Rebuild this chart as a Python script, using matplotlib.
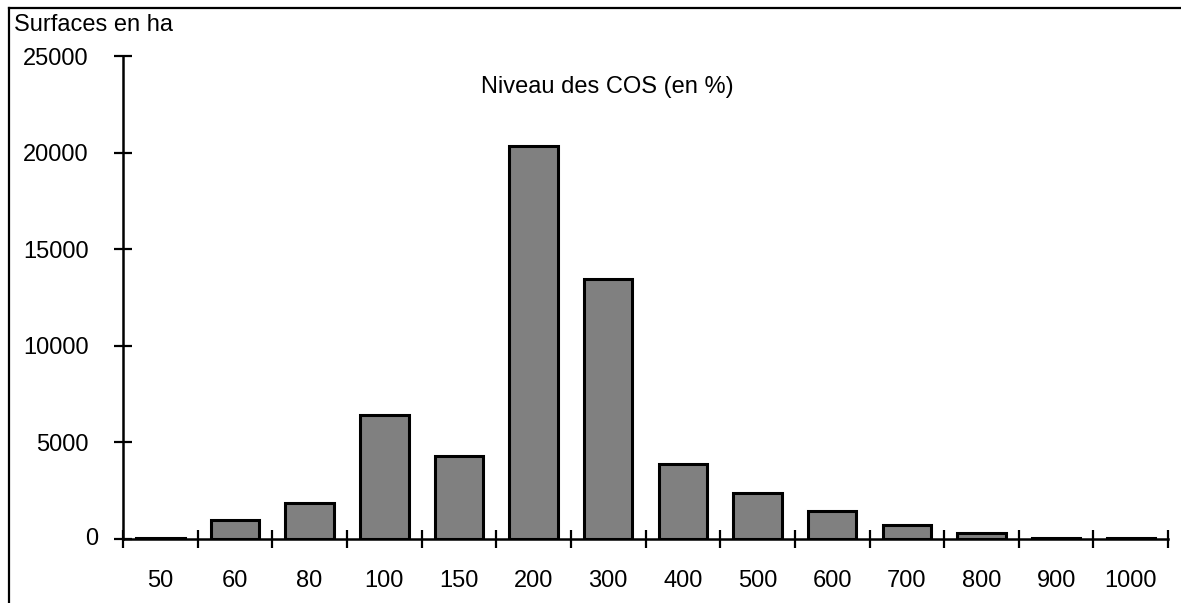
import matplotlib.pyplot as plt
import numpy as np
from matplotlib.lines import Line2D
from matplotlib.ticker import FuncFormatter

plt.rcParams['font.family'] = ['Liberation Sans', 'DejaVu Sans']

# Surfaces (ha) par niveau de COS
categories = ['50', '60', '80', '100', '150', '200', '300', '400', '500', '600', '700', '800', '900', '1000']
surfaces = [60, 1000, 1850, 6400, 4300, 20350, 13450, 3900, 2400, 1450, 750, 330, 60, 60]
y_ticks = [0, 5000, 10000, 15000, 20000, 25000]

fs = 17

fig = plt.figure(figsize=(11.81, 6.03), dpi=100)
ax = fig.add_axes([0.1041, 0.1061, 0.885, 0.801])

x = np.arange(len(categories))
ax.bar(x, surfaces, width=0.65, color='#808080', edgecolor='black', linewidth=2.2, zorder=2)

ax.set_xlim(-0.5, len(categories) - 0.5)
ax.set_ylim(0, 25000)

# x ticks at category boundaries, labels in the middle
ax.set_xticks(np.arange(-0.5, len(categories), 1.0))
ax.set_xticklabels([])
ax.set_xticks(x, minor=True)
ax.set_xticklabels(categories, minor=True)
ax.tick_params(axis='x', which='major', direction='inout', length=12.5, width=1.6)
ax.tick_params(axis='x', which='minor', length=0, pad=22, labelsize=fs)

# y labels right-aligned well away from the axis, "0" sits closer (as in the original)
ax.set_yticks(y_ticks)
ax.yaxis.set_major_formatter(FuncFormatter(lambda v, p: '' if v == 0 else f'{v:.0f}'))
ax.tick_params(axis='y', direction='inout', length=13, width=1.6, pad=18, labelsize=fs)
ax.text(98 / 1181, 1 - 539 / 603, '0', transform=fig.transFigure, ha='right', va='center', fontsize=fs)

for s in ['top', 'right']:
    ax.spines[s].set_visible(False)
for s in ['left', 'bottom']:
    ax.spines[s].set_linewidth(1.8)

ax.text(0.463, 0.936, 'Niveau des COS (en %)', transform=ax.transAxes,
        ha='center', va='center', fontsize=fs)
fig.text(14 / 1181, 1 - 25 / 603, 'Surfaces en ha', ha='left', va='center', fontsize=fs)

# frame lines (top and left)
fig.add_artist(Line2D([9 / 1181, 1.0], [1 - 8 / 603, 1 - 8 / 603], color='black', lw=1.6, transform=fig.transFigure))
fig.add_artist(Line2D([9 / 1181, 9 / 1181], [0.0, 1 - 8 / 603], color='black', lw=1.6, transform=fig.transFigure))

fig.savefig('out.png', dpi=100)
